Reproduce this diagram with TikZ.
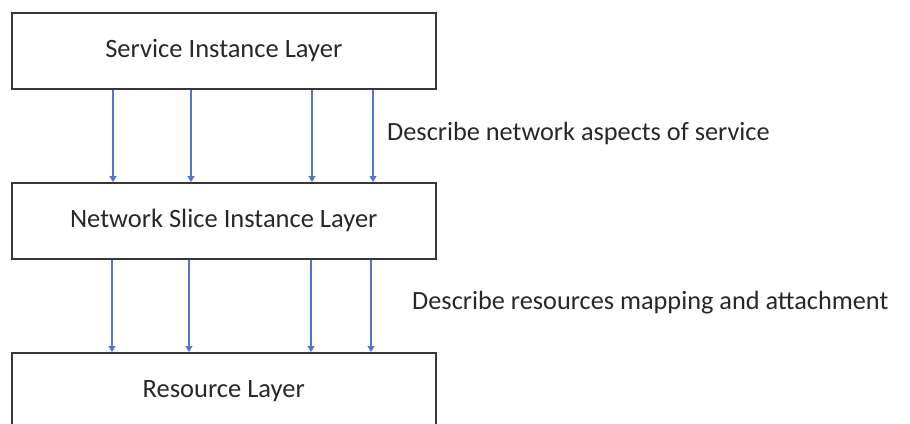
\documentclass[tikz,border=0pt]{standalone}
\usepackage{fontspec}
\setmainfont{Carlito}
\usetikzlibrary{arrows.meta}
\definecolor{arrblue}{RGB}{80,120,200}
\definecolor{boxgray}{RGB}{55,55,55}
\definecolor{txtgray}{RGB}{40,40,40}
\tikzset{
  layer/.style={draw=boxgray, line width=1.5pt, minimum width=424pt, minimum height=76pt, inner sep=0pt, anchor=north west, font=\fontsize{26.5}{30}\selectfont, text=txtgray},
  arr/.style={draw=arrblue, line width=1.2pt, -{Triangle[length=6pt,width=7pt]}},
  lbl/.style={anchor=west, inner sep=0pt, font=\fontsize{26.3}{30}\selectfont, text=txtgray}
}
\begin{document}
\begin{tikzpicture}[x=1pt,y=-1pt]
\useasboundingbox (0,0) rectangle (910,423);
\clip (0,0) rectangle (910,423);
\node[layer] (top) at (11,12) {Service Instance Layer};
\node[layer] (mid) at (11,182) {Network Slice Instance Layer};
\node[layer] (res) at (11,352) {Resource Layer};
\foreach \d in {102,180,301,362} {
  \draw[arr] ([xshift=\d pt]top.south west) -- ([xshift=\d pt]mid.north west);
}
\foreach \d in {101,178,300,360} {
  \draw[arr] ([xshift=\d pt]mid.south west) -- ([xshift=\d pt]res.north west);
}
\node[lbl] (l1) at (387,133) {Describe network aspects of service};
\node[lbl] (l2) at (412,303) {Describe resources mapping and attachment};
\end{tikzpicture}
\end{document}
